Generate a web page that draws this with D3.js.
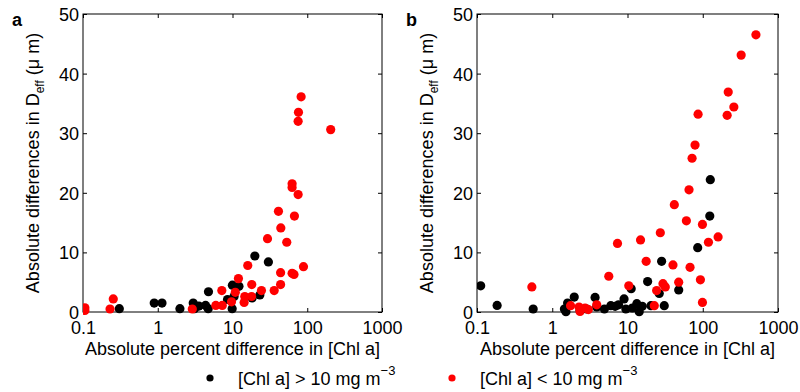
<!DOCTYPE html>
<html>
<head>
<meta charset="utf-8">
<script src="https://cdn.jsdelivr.net/npm/d3@7"></script>
<style>
  body { margin: 0; background: #fff; }
  svg { display: block; font-family: "Liberation Sans", Arial, sans-serif; }
</style>
</head>
<body>
<svg id="chart" width="800" height="392"></svg>
<script>
// values: [percent difference, absolute difference]
const aHigh = [
  [0.306, 0.56], [0.897, 1.5], [1.14, 1.5], [1.98, 0.56], [2.98, 1.5], [3.1, 0.56],
  [3.55, 1.0], [4.36, 1.1], [4.73, 0.56], [4.77, 3.4], [8.58, 2.1], [9.9, 0.56],
  [9.97, 4.5], [10.5, 2.6], [12.2, 4.3], [18.3, 2.35], [19.9, 9.4], [23.2, 2.85], [30.2, 8.4]
];
const aLow = [
  [0.106, 0.7], [0.106, 0.25], [0.23, 0.5], [0.254, 2.2], [2.9, 0.5], [5.98, 1.1],
  [7.3, 1.1], [7.2, 3.6], [9.7, 1.7], [10.9, 3.3], [12.0, 5.6], [14.3, 1.6],
  [14.6, 2.6], [16.0, 7.8], [18.1, 4.6], [18.0, 2.6], [24.4, 3.6], [29.4, 12.3],
  [36.1, 3.6], [41.2, 16.9], [44.3, 14.1], [44, 6.6], [44, 4.6], [53.2, 11.7],
  [62.7, 21.5], [62.7, 20.9], [62.7, 6.5], [66.5, 6.3], [67.4, 16.1], [75.5, 19.7],
  [75.5, 32.0], [76.3, 33.5], [82.8, 36.1], [89, 7.6], [206, 30.6]
];
const bHigh = [
  [0.112, 4.4], [0.185, 1.1], [0.558, 0.5], [1.45, 0.5], [1.6, 1.5], [1.96, 2.5],
  [1.52, 0.05], [2.34, 0.28], [2.87, 0.5], [3.71, 2.45], [3.9, 0.84], [4.93, 0.5],
  [6.0, 1.06], [6.85, 0.95], [7.6, 1.2], [9.0, 2.2], [9.5, 0.5], [11.2, 3.9],
  [11.6, 0.67], [13.3, 1.4], [14.3, 0.05], [15.7, 0.95], [18.5, 5.1], [20.5, 1.06],
  [26.4, 3.1], [28.4, 8.5], [30.8, 1.06], [47.9, 3.7], [85.7, 10.8], [124, 16.1], [126, 22.2]
];
const bLow = [
  [0.536, 4.2], [1.75, 1.06], [2.27, 0.84], [2.34, 0.1], [2.73, 0.67], [3.02, 0.4],
  [3.9, 1.2], [5.64, 6.0], [7.36, 11.5], [10.4, 4.4], [14.9, 12.1], [17.7, 8.5],
  [22.7, 1.06], [24.4, 3.6], [27.3, 13.3], [29.6, 4.75], [31.8, 4.2], [40.2, 7.9],
  [41.9, 18.0], [47.9, 5.0], [60.6, 15.3], [65.7, 20.5], [67.8, 7.5], [72.1, 25.8],
  [79, 28.0], [86.7, 33.2], [93.1, 5.4], [99.1, 14.7], [99.1, 1.6], [119, 11.7],
  [160, 12.6], [211, 33.0], [218, 36.9], [259, 34.4], [324, 43.1], [509, 46.5]
];
const xTicks = [0.1, 1, 10, 100, 1000];
const xTickLabels = ['0.1', '1', '10', '100', '1000'];
const yTicks = [0, 10, 20, 30, 40, 50];
const panels = [
  { id: 'a', high: aHigh, low: aLow, left: 83, right: 382 },
  { id: 'b', high: bHigh, low: bLow, left: 477, right: 778 }
];

const svg = d3.select('#chart');
const plotTop = 14, plotBottom = 312, tickLen = 4, fs = 18;

panels.forEach((p) => {
  const x = d3.scaleLog().domain([0.1, 1000]).range([p.left, p.right]);
  const y = d3.scaleLinear().domain([0, 50]).range([plotBottom, plotTop]);
  const g = svg.append('g');

  // ticks on all four sides, pointing inward
  const fmt = (d) => xTickLabels[xTicks.indexOf(d)];
  const axes = [
    [d3.axisBottom(x).tickValues(xTicks).tickFormat(fmt).tickSizeInner(-tickLen), `translate(0,${plotBottom})`],
    [d3.axisTop(x).tickValues(xTicks).tickFormat('').tickSizeInner(-tickLen), `translate(0,${plotTop})`],
    [d3.axisLeft(y).tickValues(yTicks).tickSizeInner(-tickLen), `translate(${p.left},0)`],
    [d3.axisRight(y).tickValues(yTicks).tickFormat('').tickSizeInner(-tickLen), `translate(${p.right},0)`]
  ];
  axes.forEach(([axis, tr], i) => {
    const ag = g.append('g').attr('transform', tr).call(axis.tickSizeOuter(0).tickPadding(5));
    ag.select('.domain').remove();
    ag.selectAll('line').attr('stroke', '#000');
    ag.selectAll('text').attr('font-size', fs).attr('fill', '#000');
    if (i === 0) ag.selectAll('text').attr('dy', null).attr('y', 22);
    if (i === 2) ag.selectAll('text').attr('dy', '0.36em').attr('x', -4);
  });
  g.selectAll('.tick text').attr('font-family', '"Liberation Sans", Arial, sans-serif');

  g.append('rect')
    .attr('x', p.left).attr('y', plotTop)
    .attr('width', p.right - p.left).attr('height', plotBottom - plotTop)
    .attr('fill', 'none').attr('stroke', '#000').attr('stroke-width', 1);

  const clipId = `clip-${p.id}`;
  svg.append('clipPath').attr('id', clipId).append('rect')
    .attr('x', p.left).attr('y', plotTop - 6)
    .attr('width', p.right - p.left + 6).attr('height', plotBottom - plotTop + 12);

  const dots = g.append('g').attr('clip-path', `url(#${clipId})`);
  [[p.high, '#000'], [p.low, '#ff0000']].forEach(([data, color]) => {
    dots.selectAll(null).data(data).enter().append('circle')
      .attr('cx', (d) => x(d[0]))
      .attr('cy', (d) => y(d[1]))
      .attr('r', 4.6)
      .attr('fill', color);
  });

  g.append('text')
    .attr('x', (p.left + p.right) / 2).attr('y', 355)
    .attr('text-anchor', 'middle').attr('font-size', fs)
    .text('Absolute percent difference in [Chl a]');

  const yl = g.append('text')
    .attr('transform', `translate(${p.left - 44},${(plotTop + plotBottom) / 2}) rotate(-90)`)
    .attr('text-anchor', 'middle').attr('font-size', fs);
  yl.append('tspan').text('Absolute differences in D');
  yl.append('tspan').attr('font-size', 12).attr('dy', 5).text('eff');
  yl.append('tspan').attr('dy', -5).text(' (\u03bc m)');

  g.append('text')
    .attr('x', p.left - 71).attr('y', 26)
    .attr('font-size', 18).attr('font-weight', 'bold')
    .text(p.id);
});

// legend
const legend = [
  { color: '#000', cx: 210, tx: 238, sign: '>' },
  { color: '#ff0000', cx: 452, tx: 480, sign: '<' }
];
legend.forEach((l) => {
  svg.append('circle').attr('cx', l.cx).attr('cy', 378).attr('r', 3.6).attr('fill', l.color);
  const t = svg.append('text').attr('x', l.tx).attr('y', 385).attr('font-size', fs);
  t.append('tspan').text(`[Chl a] ${l.sign} 10 mg m`);
  t.append('tspan').attr('font-size', 13).attr('dy', -10).text('\u22123');
});
</script>
</body>
</html>
